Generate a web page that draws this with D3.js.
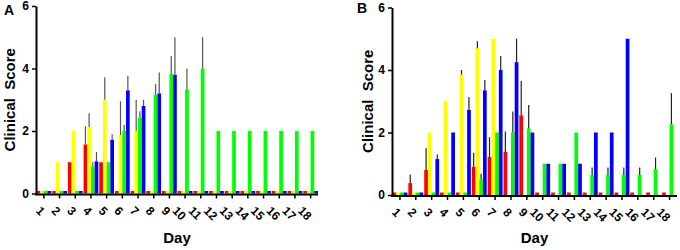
<!DOCTYPE html>
<html>
<head>
<meta charset="UTF-8">
<script src="https://d3js.org/d3.v7.min.js"></script>
<style>
    body { margin: 0; background: #fff; }
    svg { display: block; font-family: "Liberation Sans", Arial, sans-serif; font-weight: bold; }
    .domain { stroke: #000; stroke-width: 2; }
    .tick line { stroke: #000; stroke-width: 1.5; }
</style>
</head>
<body>
<svg width="680" height="250"></svg>
<script>
    // days on the x axis
    const days = ["1","2","3","4","5","6","7","8","9","10","11","12","13","14","15","16","17","18"];
    const groups = ["red", "yellow", "green", "blue"];
    const colors = ["#ff0000", "#ffff00", "#00ff00", "#0000ff"];
    const yTicks = [0, 2, 4, 6];

    // panel A - mean clinical score, null = no bar, 0 = drawn as a stub
    const aRed    = [0, 0, 1, 1.57, 1, 0, 0, 0, 0, 0, 0, 0, 0, 0, 0, 0, 0, 0];
    const aYellow = [0, 1, 2, 2.13, 3, 1.87, 2, 0, 0, 0, 0, 0, 0, 0, 0, 0, 0, 0];
    const aGreen  = [0, 0, 0, 0.87, 1, 2, 2.43, 3.15, 3.83, 3.33, 4, 2, 2, 2, 2, 2, 2, 2];
    const aBlue   = [0, 0, 0, 1.03, 1.72, 3.3, 2.8, 3.2, 3.8, 0, 0, 0, 0, 0, 0, 0, 0, 0];
    // panel A - error (upper bar only)
    const aRedErr    = [0, 0, 0, 0.58, 0, 0, 0, 0, 0, 0, 0, 0, 0, 0, 0, 0, 0, 0];
    const aYellowErr = [0, 0, 0, 0.44, 0.72, 1.08, 1, 0, 0, 0, 0, 0, 0, 0, 0, 0, 0, 0];
    const aGreenErr  = [0, 0, 0, 0.13, 0, 0.2, 0.2, 0.35, 0.57, 0.67, 1, 0, 0, 0, 0, 0, 0, 0];
    const aBlueErr   = [0, 0, 0, 0.3, 0.18, 0.47, 0.2, 0.67, 1.2, 0, 0, 0, 0, 0, 0, 0, 0, 0];

    // panel B
    const bRed    = [0, 0.38, 0.8, 0, 0, 0.9, 1.22, 1.38, 2.55, 0, 0, 0, 0, 0, 0, 0, 0, 0];
    const bYellow = [0, 0, 2, 3, 3.85, 4.7, 5, null, null, null, null, null, null, null, null, null, null, null];
    const bGreen  = [0, 0, 0, 0, 0, 0.5, 2, 2, 2.13, 1, 1, 2, 0.64, 0.64, 0.64, 0.64, 0.83, 2.26];
    const bBlue   = [0, 0, 1.15, 2, 2.72, 3.35, 4, 4.25, 2, 1, 1, 1, 2, 2, 5, null, null, null];
    const bRedErr    = [0, 0.28, 0.7, 0, 0, 0.45, 0.63, 0.65, 1.1, 0, 0, 0, 0, 0, 0, 0, 0, 0];
    const bYellowErr = [0, 0, 0, 0, 0.15, 0.22, 0, 0, 0, 0, 0, 0, 0, 0, 0, 0, 0, 0];
    const bGreenErr  = [0, 0, 0, 0, 0, 0.18, 0, 0.67, 0.75, 0, 0, 0, 0.24, 0.24, 0.24, 0.24, 0.37, 1];
    const bBlueErr   = [0, 0, 0.15, 0, 0.42, 0.33, 0.45, 0.75, 0, 0, 0, 0, 0, 0, 0, 0, 0, 0];

    const svg = d3.select("svg");

    function drawPanel(p) {
        const g = svg.append("g");

        const y = d3.scaleLinear().domain([0, 6]).range([p.y0, p.y6]);
        const x0 = d3.scaleBand().domain(days).range([p.axisX + 0.5, p.xEnd]).paddingInner(0.06);
        const x1 = d3.scaleBand().domain(groups).range([0, x0.bandwidth()]);

        // bars
        p.values.forEach(function(vals, s) {
            vals.forEach(function(v, i) {
                if (v === null) return;
                const h = Math.max(y(0) - y(v), 2.5);
                g.append("rect")
                    .attr("x", x0(days[i]) + x1(groups[s]))
                    .attr("y", y(0) - h)
                    .attr("width", x1.bandwidth())
                    .attr("height", h)
                    .attr("fill", colors[s]);
            });
        });

        // error bars
        p.errors.forEach(function(errs, s) {
            errs.forEach(function(e, i) {
                const v = p.values[s][i];
                if (!e || v === null) return;
                const cx = x0(days[i]) + x1(groups[s]) + x1.bandwidth() / 2;
                g.append("line")
                    .attr("x1", cx).attr("x2", cx)
                    .attr("y1", y(v)).attr("y2", y(v + e))
                    .attr("stroke", p.errColor)
                    .attr("stroke-width", 1.2);
            });
        });

        // y axis
        const ya = g.append("g")
            .attr("transform", "translate(" + p.axisX + ",0)")
            .call(d3.axisLeft(y).tickValues(yTicks).tickFormat(d3.format("d"))
                .tickSize(4).tickSizeOuter(0).tickPadding(3));
        ya.selectAll("text").attr("font-size", 12).attr("font-weight", "bold").attr("fill", "#000");

        // x axis
        const xa = g.append("g")
            .attr("transform", "translate(0," + (y(0) + 1) + ")")
            .call(d3.axisBottom(x0).tickSize(4).tickSizeOuter(0));
        xa.select(".domain").attr("d", "M" + (p.axisX - 1) + ",0H" + p.xEnd);
        xa.selectAll(".tick text")
            .attr("font-size", 12)
            .attr("font-weight", "bold")
            .attr("fill", "#000")
            .attr("text-anchor", "middle")
            .attr("dy", "0.35em")
            .attr("y", 0)
            .attr("transform", function() {
                const len = this.getComputedTextLength();
                const half = (len * 0.707 + 8.6 * 0.707) / 2;
                return "translate(" + (2 - half) + "," + (11 + half) + ") rotate(45)";
            });

        // titles
        g.append("text")
            .attr("transform", "translate(" + p.titleX + "," + (p.y0 + p.y6) / 2 + ") rotate(-90)")
            .attr("text-anchor", "middle")
            .attr("font-size", 15)
            .attr("xml:space", "preserve")
            .text("Clinical  Score");

        g.append("text")
            .attr("x", (p.axisX + p.xEnd) / 2)
            .attr("y", 243)
            .attr("text-anchor", "middle")
            .attr("font-size", 15)
            .text("Day");

        g.append("text")
            .attr("x", p.letterX)
            .attr("y", p.letterY)
            .attr("font-size", 14)
            .text(p.letter);
    }

    drawPanel({
        axisX: 36, xEnd: 318, y0: 193.5, y6: 6,
        titleX: 15, letter: "A", letterX: 4, letterY: 15,
        errColor: "#555",
        values: [aRed, aYellow, aGreen, aBlue],
        errors: [aRedErr, aYellowErr, aGreenErr, aBlueErr]
    });

    drawPanel({
        axisX: 392, xEnd: 677, y0: 195, y6: 7.5,
        titleX: 373, letter: "B", letterX: 357, letterY: 13,
        errColor: "#222",
        values: [bRed, bYellow, bGreen, bBlue],
        errors: [bRedErr, bYellowErr, bGreenErr, bBlueErr]
    });
</script>
</body>
</html>
